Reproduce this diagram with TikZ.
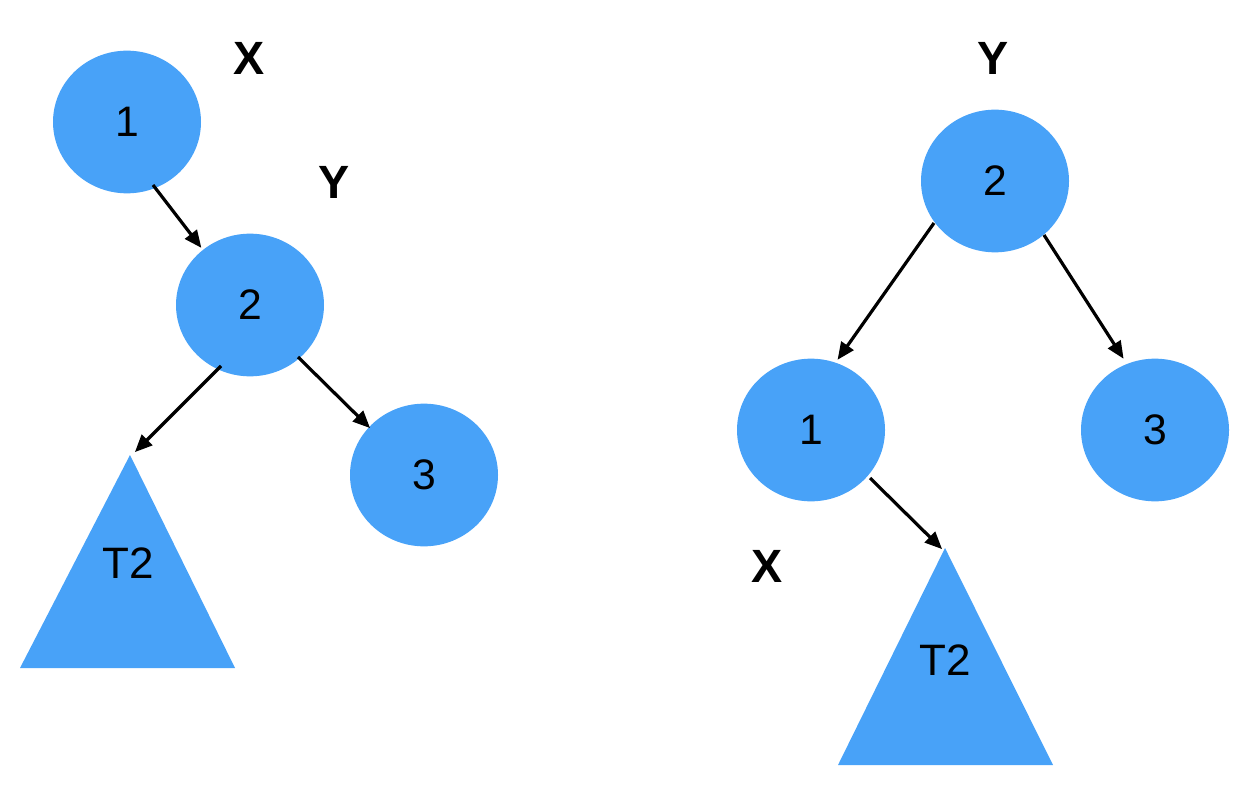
\documentclass[tikz,border=0pt]{standalone}
\usepackage{fontspec}
\setmainfont{Liberation Sans}
\usetikzlibrary{arrows.meta,shapes.geometric}
\definecolor{nodeblue}{HTML}{48A2F8}
\begin{document}
\begin{tikzpicture}[x=0.75pt,y=-0.75pt,
  bnode/.style={ellipse,fill=nodeblue,minimum width=111pt,minimum height=107pt,inner sep=0pt,font=\fontsize{32}{32}\selectfont},
  tri/.style={fill=nodeblue},
  lbl/.style={font=\fontsize{35}{35}\selectfont\bfseries},
  tlbl/.style={font=\fontsize{33}{33}\selectfont},
  conn/.style={-{Triangle[length=13pt,width=11pt]},line width=2.4pt,shorten >=2pt}]
\useasboundingbox (0,0) rectangle (1244,798);
% left tree
\node[bnode] (L1) at (127,122) {1};
\node[bnode] (L2) at (250,305) {2};
\node[bnode] (L3) at (424,475) {3};
\fill[tri] (130,455) -- (235,668) -- (20,668) -- cycle;
\node[tlbl] (LTt) at (128,563) {T2};
\node[lbl] (LX) at (249,58) {X};
\node[lbl] (LY) at (334,182) {Y};
\coordinate (a1) at (153,185); \coordinate (b1) at (203,250);
\coordinate (a2) at (221,366); \coordinate (b2) at (133,454);
\coordinate (a3) at (298,357); \coordinate (b3) at (372,430);
\draw[conn] (a1) -- (b1);
\draw[conn] (a2) -- (b2);
\draw[conn] (a3) -- (b3);
% right tree
\node[bnode] (R2) at (995,181) {2};
\node[bnode] (R1) at (811,430) {1};
\node[bnode] (R3) at (1155,430) {3};
\fill[tri] (945,548) -- (1053,765) -- (838,765) -- cycle;
\node[tlbl] (RTt) at (945,660) {T2};
\node[lbl] (RY) at (993,58) {Y};
\node[lbl] (RX) at (767,566) {X};
\coordinate (c1) at (934,223); \coordinate (d1) at (836,362);
\coordinate (c2) at (1044,235); \coordinate (d2) at (1125,361);
\coordinate (c3) at (870,478); \coordinate (d3) at (944,551);
\draw[conn] (c1) -- (d1);
\draw[conn] (c2) -- (d2);
\draw[conn] (c3) -- (d3);
\end{tikzpicture}
\end{document}
